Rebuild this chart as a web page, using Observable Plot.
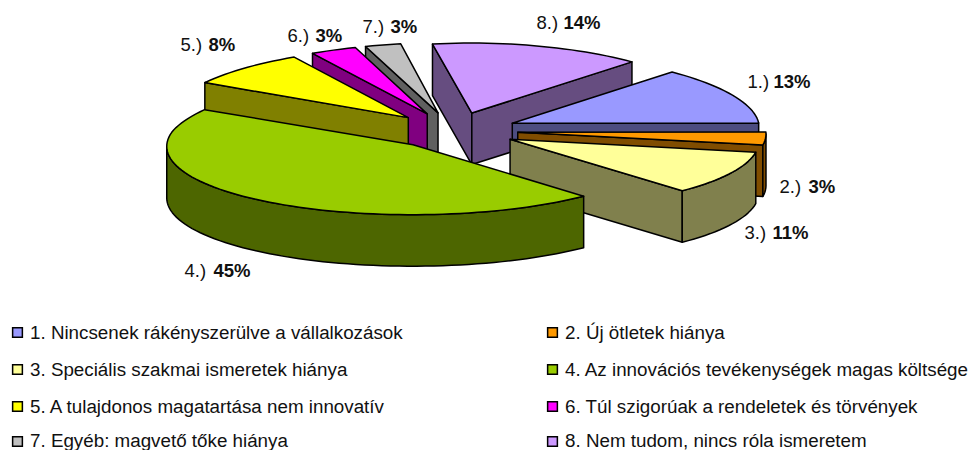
<!DOCTYPE html>
<html>
<head>
<meta charset="utf-8">
<style>html,body{margin:0;padding:0;background:#fff;overflow:hidden}svg{display:block}</style>
<script src="https://cdn.jsdelivr.net/npm/d3@7"></script>
<script src="https://cdn.jsdelivr.net/npm/@observablehq/plot@0.6"></script>
</head>
<body>
<script>
const categories = [
  "1. Nincsenek rákényszerülve a vállalkozások",
  "2. Új ötletek hiánya",
  "3. Speciális szakmai ismeretek hiánya",
  "4. Az innovációs tevékenységek magas költsége",
  "5. A tulajdonos magatartása nem innovatív",
  "6. Túl szigorúak a rendeletek és törvények",
  "7. Egyéb: magvető tőke hiánya",
  "8. Nem tudom, nincs róla ismeretem"
];
const sliceNames = ["1.)","2.)","3.)","4.)","5.)","6.)","7.)","8.)"];
const percentLabels = ["13%","3%","11%","45%","8%","3%","3%","14%"];
// slice sizes as drawn in the picture (percent of the turn)
const shares = [13, 3, 10.2, 45.2, 8.3, 3.2, 2.5, 14.6];
const topColors = ["#9999FF","#FF9900","#FFFF99","#99CC00","#FFFF00","#FF00FF","#C0C0C0","#CC99FF"];
const sideColors = ["#4D4D80","#804D00","#80804D","#4D6600","#808000","#800080","#606060","#664D80"];
const paintOrder = [7,6,5,4,0,1,2,3];

// pie geometry
const cx=453, cy=130, rxRight=248, rxLeft=245, ry=70, explode=0.26, depth=51.5, startDeg=-47;
const rad = d => d*Math.PI/180;
// the back of the tilted pie is drawn a little narrower than its front
const persp = (x,y) => cx+(x-cx)*(1+(y<cy?0.0007:0.0003)*(y-cy));
const total = d3.sum(shares);
let acc = startDeg;
const slices = shares.map((s,i)=>{const a0=acc; acc+=s/total*360; return {i,a0,a1:acc};});

const pts = [];
let faceId = 0;
function face(points, color){
  const id = faceId++;
  [...points, points[0]].forEach(([x,y])=>pts.push({x,y,id,color}));
}
for (const k of paintOrder){
  const {a0,a1,i} = slices[k];
  const m = (a0+a1)/2;
  const ay = cy+explode*ry*Math.sin(rad(m));
  const ax = persp(cx+explode*rxRight*Math.cos(rad(m)), ay);
  const apex = [ax,ay];
  const rim = t => {
    const y = ay+ry*Math.sin(rad(t));
    const c = Math.cos(rad(t));
    return [persp(ax+(c<0?rxLeft:rxRight)*c,y), y];
  };
  const arc = [];
  const n = Math.max(2,Math.ceil((a1-a0)/2));
  for(let j=0;j<=n;j++) arc.push(a0+(a1-a0)*j/n);
  const down = ([x,y])=>[x,y+depth];
  if(Math.cos(rad(a0))<0){const e=rim(a0); face([apex,e,down(e),down(apex)],sideColors[i]);}
  if(Math.cos(rad(a1))>0){const e=rim(a1); face([apex,e,down(e),down(apex)],sideColors[i]);}
  const vis = arc.filter(t=>Math.sin(rad(t))>0);
  if(vis.length>1){
    const up = vis.map(rim);
    face([...up,...up.slice().reverse().map(down)],sideColors[i]);
  }
  face([apex,...arc.map(rim)],topColors[i]);
}

// data label anchors
const labelRows = [
  {i:0,x:747,b:773,y:87},{i:1,x:779,b:808,y:192},{i:2,x:744,b:772,y:238},{i:3,x:184,b:213,y:276},
  {i:4,x:180,b:208,y:50},{i:5,x:287,b:315,y:41},{i:6,x:362,b:390,y:32},{i:7,x:536,b:563,y:28}
].map(d=>({...d,name:sliceNames[d.i],pct:percentLabels[d.i]}));

const legendRowsY=[332,369,406,441], legendColsX=[17,552], legendBase=[338,375,412,446];
const legendRows = categories.map((c,i)=>({label:c,color:topColors[i],x:legendColsX[i%2],y:legendRowsY[Math.floor(i/2)],b:legendBase[Math.floor(i/2)]}));

const font = "Liberation Sans";
const chart = Plot.plot({
  width:970,height:450,margin:0,
  style:{background:"#fff",fontFamily:font},
  x:{domain:[0,970],range:[0,970],axis:null},
  y:{domain:[0,450],range:[0,450],axis:null},
  color:{type:"identity"},
  marks:[
    Plot.line(pts,{x:"x",y:"y",z:"id",fill:"color",stroke:"#000",strokeWidth:1.5,strokeLinejoin:"round"}),
    Plot.text(labelRows,{x:"x",y:"y",text:"name",textAnchor:"start",lineAnchor:"bottom",fontSize:18.5,fill:"#111"}),
    Plot.text(labelRows,{x:"b",y:"y",text:"pct",textAnchor:"start",lineAnchor:"bottom",fontSize:18.5,fontWeight:"bold",fill:"#111"}),
    Plot.dot(legendRows,{x:"x",y:"y",symbol:"square",r:5.5,fill:"color",stroke:"#000",strokeWidth:1.5}),
    Plot.text(legendRows,{x:d=>d.x+12.5,y:"b",text:"label",textAnchor:"start",lineAnchor:"bottom",fontSize:18.8,fill:"#111"})
  ]
});
document.body.appendChild(chart);
</script>
</body>
</html>
